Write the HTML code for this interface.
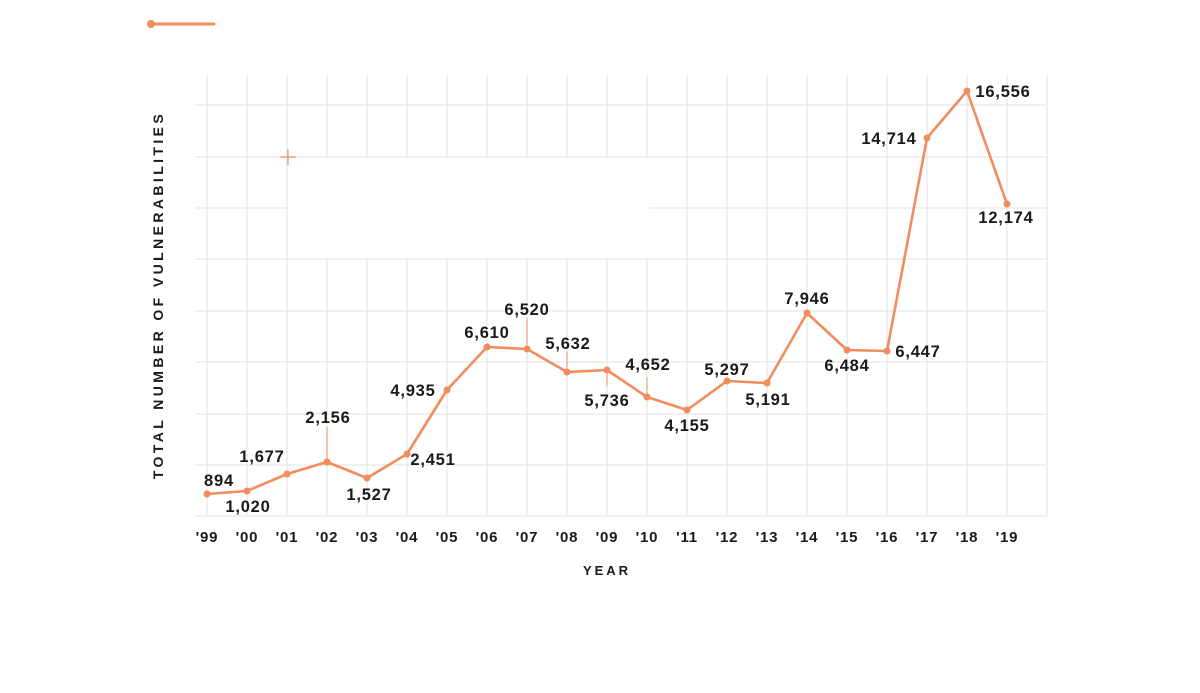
<!DOCTYPE html>
<html><head><style>
body{margin:0;background:#fff;}
svg text{font-family:"Liberation Sans",sans-serif;}
</style></head><body>
<svg width="1200" height="688" xmlns="http://www.w3.org/2000/svg">
<g stroke="#e6e6e6" stroke-width="1.2">
<line x1="207" y1="75" x2="207" y2="516"/><line x1="247" y1="75" x2="247" y2="516"/><line x1="287" y1="75" x2="287" y2="516"/><line x1="327" y1="75" x2="327" y2="516"/><line x1="367" y1="75" x2="367" y2="516"/><line x1="407" y1="75" x2="407" y2="516"/><line x1="447" y1="75" x2="447" y2="516"/><line x1="487" y1="75" x2="487" y2="516"/><line x1="527" y1="75" x2="527" y2="516"/><line x1="567" y1="75" x2="567" y2="516"/><line x1="607" y1="75" x2="607" y2="516"/><line x1="647" y1="75" x2="647" y2="516"/><line x1="687" y1="75" x2="687" y2="516"/><line x1="727" y1="75" x2="727" y2="516"/><line x1="767" y1="75" x2="767" y2="516"/><line x1="807" y1="75" x2="807" y2="516"/><line x1="847" y1="75" x2="847" y2="516"/><line x1="887" y1="75" x2="887" y2="516"/><line x1="927" y1="75" x2="927" y2="516"/><line x1="967" y1="75" x2="967" y2="516"/><line x1="1007" y1="75" x2="1007" y2="516"/><line x1="1047" y1="75" x2="1047" y2="516"/>
<line x1="195" y1="105" x2="1047" y2="105"/><line x1="195" y1="157" x2="1047" y2="157"/><line x1="195" y1="208" x2="1047" y2="208"/><line x1="195" y1="259" x2="1047" y2="259"/><line x1="195" y1="311" x2="1047" y2="311"/><line x1="195" y1="362" x2="1047" y2="362"/><line x1="195" y1="414" x2="1047" y2="414"/><line x1="195" y1="465" x2="1047" y2="465"/><line x1="195" y1="516" x2="1047" y2="516"/>
</g>
<rect x="289" y="158" width="360" height="100" fill="#fff"/>
<g stroke="#f08c5e" stroke-width="1.2"><line x1="280" y1="157" x2="296" y2="157"/><line x1="288" y1="149" x2="288" y2="165"/></g>
<line x1="150" y1="24" x2="214" y2="24" stroke="#f08c5e" stroke-width="3" stroke-linecap="round"/>
<circle cx="151" cy="24" r="4" fill="#f08c5e"/>
<g stroke="#f5a27e" stroke-width="1.2">
<line x1="327" y1="427" x2="327" y2="462"/><line x1="527" y1="318" x2="527" y2="349"/><line x1="567" y1="352" x2="567" y2="372"/><line x1="607" y1="370" x2="607" y2="386"/><line x1="647" y1="377" x2="647" y2="397"/>
</g>
<polyline fill="none" stroke="#f08c5e" stroke-width="2.6" stroke-linejoin="round" points="207,494 247,491 287,474 327,462 367,478 407,454 447,390 487,347 527,349 567,372 607,370 647,397 687,410 727,381 767,383 807,313 847,350 887,351 927,138 967,91 1007,204"/>
<g fill="#f08c5e">
<circle cx="207" cy="494" r="3.5"/><circle cx="247" cy="491" r="3.5"/><circle cx="287" cy="474" r="3.5"/><circle cx="327" cy="462" r="3.5"/><circle cx="367" cy="478" r="3.5"/><circle cx="407" cy="454" r="3.5"/><circle cx="447" cy="390" r="3.5"/><circle cx="487" cy="347" r="3.5"/><circle cx="527" cy="349" r="3.5"/><circle cx="567" cy="372" r="3.5"/><circle cx="607" cy="370" r="3.5"/><circle cx="647" cy="397" r="3.5"/><circle cx="687" cy="410" r="3.5"/><circle cx="727" cy="381" r="3.5"/><circle cx="767" cy="383" r="3.5"/><circle cx="807" cy="313" r="3.5"/><circle cx="847" cy="350" r="3.5"/><circle cx="887" cy="351" r="3.5"/><circle cx="927" cy="138" r="3.5"/><circle cx="967" cy="91" r="3.5"/><circle cx="1007" cy="204" r="3.5"/>
</g>
<g font-size="16.5" font-weight="bold" fill="#1a1a1a" text-anchor="middle" letter-spacing="0.8">
<text x="219" y="486">894</text><text x="248" y="512">1,020</text><text x="262" y="462">1,677</text><text x="328" y="423">2,156</text><text x="369" y="500">1,527</text><text x="433" y="465">2,451</text><text x="413" y="396">4,935</text><text x="487" y="338">6,610</text><text x="527" y="315">6,520</text><text x="568" y="349">5,632</text><text x="607" y="406">5,736</text><text x="648" y="370">4,652</text><text x="687" y="431">4,155</text><text x="727" y="375">5,297</text><text x="768" y="405">5,191</text><text x="807" y="304">7,946</text><text x="847" y="371">6,484</text><text x="918" y="357">6,447</text><text x="889" y="144">14,714</text><text x="1003" y="97">16,556</text><text x="1006" y="223">12,174</text>
</g>
<g font-size="15" font-weight="bold" fill="#1a1a1a" text-anchor="middle" letter-spacing="0.8">
<text x="207" y="542">'99</text><text x="247" y="542">'00</text><text x="287" y="542">'01</text><text x="327" y="542">'02</text><text x="367" y="542">'03</text><text x="407" y="542">'04</text><text x="447" y="542">'05</text><text x="487" y="542">'06</text><text x="527" y="542">'07</text><text x="567" y="542">'08</text><text x="607" y="542">'09</text><text x="647" y="542">'10</text><text x="687" y="542">'11</text><text x="727" y="542">'12</text><text x="767" y="542">'13</text><text x="807" y="542">'14</text><text x="847" y="542">'15</text><text x="887" y="542">'16</text><text x="927" y="542">'17</text><text x="967" y="542">'18</text><text x="1007" y="542">'19</text>
</g>
<text x="607" y="575" font-size="13" font-weight="bold" fill="#1a1a1a" text-anchor="middle" letter-spacing="3">YEAR</text>
<text transform="translate(163,295) rotate(-90)" font-size="14" font-weight="bold" fill="#1a1a1a" text-anchor="middle" letter-spacing="3.4">TOTAL NUMBER OF VULNERABILITIES</text>
</svg>
</body></html>
